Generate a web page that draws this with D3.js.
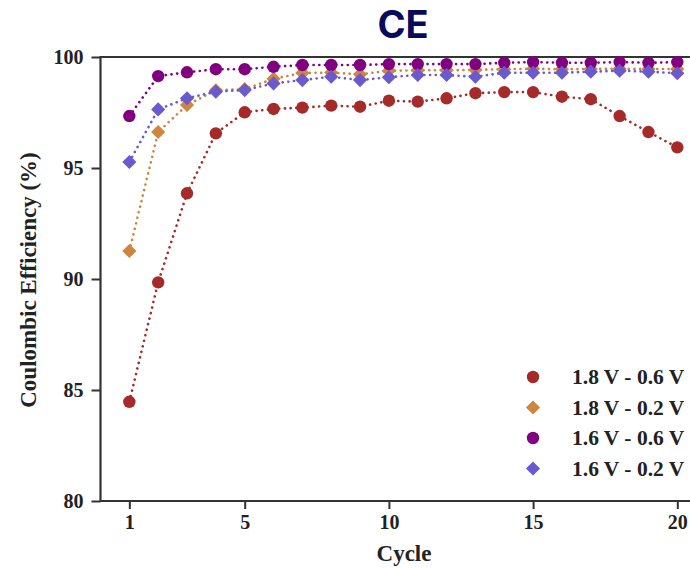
<!DOCTYPE html>
<html>
<head>
<meta charset="utf-8">
<script src="https://cdn.jsdelivr.net/npm/d3@7"></script>
<style>
  html, body { margin: 0; padding: 0; background: #fff; }
  svg { display: block; }
</style>
</head>
<body>
<svg id="chart" width="690" height="568"></svg>
<script>
const cycles = [1,2,3,4,5,6,7,8,9,10,11,12,13,14,15,16,17,18,19,20];
const seriesNames = ["1.8 V - 0.6 V", "1.8 V - 0.2 V", "1.6 V - 0.6 V", "1.6 V - 0.2 V"];
const ce_18_06 = [84.47, 89.85, 93.86, 96.56, 97.51, 97.66, 97.72, 97.81, 97.76, 98.03, 97.99, 98.14, 98.37, 98.42, 98.42, 98.21, 98.10, 97.34, 96.62, 95.93];
const ce_18_02 = [91.26, 96.62, 97.84, 98.50, 98.55, 99.02, 99.28, 99.30, 99.22, 99.38, 99.40, 99.40, 99.42, 99.45, 99.47, 99.45, 99.46, 99.47, 99.46, 99.46];
const ce_16_06 = [97.34, 99.14, 99.31, 99.45, 99.45, 99.56, 99.64, 99.64, 99.64, 99.68, 99.68, 99.68, 99.68, 99.74, 99.77, 99.74, 99.74, 99.77, 99.74, 99.77];
const ce_16_02 = [95.27, 97.64, 98.14, 98.44, 98.51, 98.81, 98.96, 99.11, 98.96, 99.09, 99.19, 99.19, 99.11, 99.29, 99.29, 99.29, 99.34, 99.38, 99.34, 99.27];
const xTicks = [1, 5, 10, 15, 20];
const yTicks = [80, 85, 90, 95, 100];

const colors = ["#a52a2a", "#cd853f", "#800080", "#6a5acd"];
const shapes = ["circle", "diamond", "circle", "diamond"];
const allValues = [ce_18_06, ce_18_02, ce_16_06, ce_16_02];

const svg = d3.select("#chart");
const step = 28.84;
const x0 = 100.5;
const x = d3.scaleLinear().domain([0, 21]).range([x0, x0 + 21 * step]);
const y = d3.scaleLinear().domain([80, 100]).range([501, 57]);

const serif = "'Liberation Serif', 'Times New Roman', serif";

// Title
svg.append("text")
  .attr("x", 403).attr("y", 38)
  .attr("text-anchor", "middle")
  .attr("font-family", "Inter, 'Open Sans', sans-serif")
  .attr("font-weight", 700)
  .attr("font-size", 38)
  .attr("fill", "#0a0a5a")
  .text("CE");

// Axes
const xAxis = d3.axisBottom(x).tickValues(xTicks).tickSize(8).tickPadding(6).tickFormat(d3.format("d"));
const yAxis = d3.axisLeft(y).tickValues(yTicks).tickSize(9).tickPadding(8).tickFormat(d3.format("d"));

const gx = svg.append("g").attr("transform", "translate(0,501)").call(xAxis);
const gy = svg.append("g").attr("transform", `translate(${x0},0)`).call(yAxis);
[gx, gy].forEach(g => {
  g.select(".domain").remove();
  g.selectAll(".tick line").attr("stroke", "#333").attr("stroke-width", 2);
  g.selectAll(".tick text")
    .attr("font-family", serif)
    .attr("font-weight", 700)
    .attr("font-size", 20)
    .attr("fill", "#222");
});

// Spines
const spine = svg.append("g").attr("stroke", "#333").attr("stroke-width", 2.2).attr("fill", "none");
spine.append("line").attr("x1", x0).attr("x2", 706).attr("y1", 501).attr("y2", 501);
spine.append("line").attr("x1", x0).attr("x2", 706).attr("y1", 57).attr("y2", 57);
spine.append("line").attr("x1", x0).attr("x2", x0).attr("y1", 56).attr("y2", 502);

// Axis labels
svg.append("text")
  .attr("x", 404).attr("y", 561)
  .attr("text-anchor", "middle")
  .attr("font-family", serif).attr("font-weight", 700).attr("font-size", 23)
  .attr("fill", "#222")
  .text("Cycle");
svg.append("text")
  .attr("transform", "translate(36,280) rotate(-90)")
  .attr("text-anchor", "middle")
  .attr("font-family", serif).attr("font-weight", 700).attr("font-size", 23)
  .attr("fill", "#222")
  .text("Coulombic Efficiency (%)");

const diamond = d3.symbol().type(d3.symbolSquare).size(100);

function drawMarker(g, shape, color, cx, cy) {
  if (shape === "circle") {
    g.append("circle").attr("cx", cx).attr("cy", cy).attr("r", 6.2).attr("fill", color);
  } else {
    g.append("path").attr("d", diamond())
      .attr("transform", `translate(${cx},${cy}) rotate(45)`)
      .attr("fill", color);
  }
}

const line = d3.line().x((d, i) => x(cycles[i])).y(d => y(d));

allValues.forEach((vals, si) => {
  const g = svg.append("g");
  g.append("path")
    .attr("d", line(vals))
    .attr("fill", "none")
    .attr("stroke", colors[si])
    .attr("stroke-width", 2.6)
    .attr("stroke-linecap", "round")
    .attr("stroke-dasharray", "0.1 5.6");
  vals.forEach((v, i) => drawMarker(g, shapes[si], colors[si], x(cycles[i]), y(v)));
});

// Legend
const legend = svg.append("g");
const legendY = [377, 407.5, 438, 468.5];
seriesNames.forEach((name, i) => {
  drawMarker(legend, shapes[i], colors[i], 533, legendY[i]);
  legend.append("text")
    .attr("x", 572).attr("y", legendY[i] + 7)
    .attr("font-family", serif).attr("font-weight", 700).attr("font-size", 21.5)
    .attr("fill", "#222")
    .text(name);
});
</script>
</body>
</html>
